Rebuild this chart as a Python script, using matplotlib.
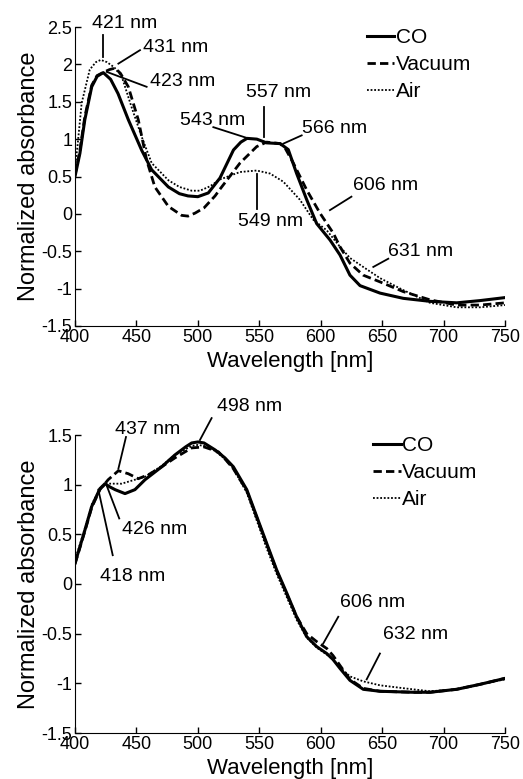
import matplotlib
matplotlib.use("Agg")
import matplotlib.pyplot as plt

plt.rcParams['font.family'] = ['Liberation Sans', 'DejaVu Sans']

# ---------------- Top panel data ----------------
top_co_x = [400, 404, 408, 413.6, 418, 423, 429, 435, 443.4, 454.3, 462.4, 476, 485, 492, 500, 508.5, 518, 529, 535, 540, 548, 556, 567, 573.6, 580.4, 588.6, 596.7, 607.6, 615.7, 623.8, 632, 648.3, 667.2, 689, 710.7, 729.7, 750]
top_co_y = [0.50, 0.81, 1.26, 1.70, 1.84, 1.89, 1.80, 1.61, 1.26, 0.85, 0.59, 0.36, 0.27, 0.24, 0.23, 0.28, 0.48, 0.855, 0.96, 1.01, 1.00, 0.95, 0.94, 0.86, 0.54, 0.19, -0.13, -0.35, -0.55, -0.82, -0.96, -1.06, -1.13, -1.17, -1.19, -1.16, -1.12]

top_vac_x = [400, 404, 408, 413.6, 418, 424, 428, 432.6, 437, 443.4, 451.5, 458.3, 465, 476, 486.8, 492, 497.7, 505, 514, 518, 534.3, 547.9, 556, 566.9, 571, 577.7, 588.6, 599.4, 610.3, 615.7, 623.8, 634.6, 648.3, 667.2, 689, 710.7, 729.7, 750]
top_vac_y = [0.52, 0.85, 1.30, 1.72, 1.85, 1.90, 1.93, 1.95, 1.88, 1.70, 1.26, 0.72, 0.36, 0.10, -0.02, -0.03, 0.01, 0.08, 0.24, 0.33, 0.68, 0.90, 0.96, 0.94, 0.88, 0.68, 0.32, 0.01, -0.26, -0.44, -0.66, -0.82, -0.91, -1.04, -1.15, -1.22, -1.22, -1.19]

top_air_x = [400, 402, 405.4, 412, 417, 421, 426, 432, 438, 446, 454.3, 462.4, 476, 485, 495, 501.7, 510, 518, 534.3, 547.9, 558.7, 569.6, 583, 594, 604.9, 615.7, 623.8, 634.6, 648.3, 667.2, 689, 710.7, 729.7, 750]
top_air_y = [0.62, 0.90, 1.48, 1.93, 2.03, 2.06, 2.03, 1.96, 1.84, 1.43, 1.03, 0.68, 0.45, 0.36, 0.31, 0.31, 0.37, 0.46, 0.56, 0.58, 0.54, 0.43, 0.19, -0.08, -0.22, -0.44, -0.59, -0.71, -0.86, -1.02, -1.19, -1.25, -1.25, -1.22]

# ---------------- Bottom panel data ----------------
bot_co_x = [400, 408, 413.6, 420.3, 424.4, 428, 432.6, 440.7, 448.8, 457, 470.6, 481.4, 490, 495, 500, 505, 514, 522, 528.9, 539.8, 547.9, 556, 564.2, 572.3, 580.4, 588.6, 596.7, 604.9, 610, 615.7, 623.8, 634.6, 648.3, 675.4, 689, 710.7, 729.7, 750]
bot_co_y = [0.21, 0.54, 0.78, 0.96, 1.01, 0.98, 0.95, 0.91, 0.95, 1.05, 1.18, 1.30, 1.38, 1.42, 1.43, 1.42, 1.35, 1.27, 1.18, 0.95, 0.68, 0.41, 0.14, -0.09, -0.33, -0.53, -0.63, -0.70, -0.76, -0.85, -0.97, -1.06, -1.08, -1.09, -1.09, -1.06, -1.01, -0.95]

bot_vac_x = [400, 408, 413.6, 420.3, 427, 435.3, 443.4, 451.5, 459.7, 470.6, 481.4, 495, 505, 516.8, 522, 528.9, 539.8, 547.9, 556, 564.2, 572.3, 580.4, 588.6, 596.7, 605, 610, 615.7, 623.8, 634.6, 648.3, 675.4, 689, 710.7, 729.7, 750]
bot_vac_y = [0.20, 0.53, 0.77, 0.95, 1.05, 1.14, 1.11, 1.06, 1.10, 1.18, 1.27, 1.37, 1.38, 1.33, 1.26, 1.16, 0.94, 0.67, 0.40, 0.13, -0.10, -0.33, -0.50, -0.58, -0.65, -0.72, -0.82, -0.96, -1.05, -1.08, -1.09, -1.09, -1.06, -1.01, -0.95]

bot_air_x = [400, 408, 413.6, 420.3, 427, 438, 448.8, 457, 470.6, 481.4, 495, 500, 505, 514, 522, 528.9, 539.8, 547.9, 556, 564.2, 572.3, 580.4, 588.6, 596.7, 604.9, 610, 615.7, 623.8, 634.6, 648.3, 668, 689, 710.7, 729.7, 750]
bot_air_y = [0.24, 0.56, 0.80, 0.96, 1.01, 1.01, 1.05, 1.08, 1.19, 1.30, 1.39, 1.40, 1.39, 1.34, 1.26, 1.16, 0.92, 0.64, 0.36, 0.10, -0.13, -0.36, -0.54, -0.64, -0.71, -0.76, -0.84, -0.93, -0.98, -1.02, -1.05, -1.08, -1.06, -1.01, -0.96]

# ---------------- Annotations: label, leader line (x0,y0)-(x1,y1), text (x, y, ha) ----------------
top_ann = [
    ("421 nm", (423, 2.10), (423, 2.39), (440.7, 2.55, 'center')),
    ("431 nm", (435.3, 2.01), (452.9, 2.19), (455.6, 2.23, 'left')),
    ("423 nm", (425.8, 1.90), (458.3, 1.70), (461, 1.765, 'left')),
    ("557 nm", (553.8, 1.03), (553.8, 1.43), (565.5, 1.63, 'center')),
    ("543 nm", (541, 1.01), (512.6, 1.16), (538.4, 1.25, 'right')),
    ("566 nm", (569.6, 0.94), (584.5, 1.05), (584.5, 1.14, 'left')),
    ("606 nm", (607.5, 0.05), (625, 0.23), (626.5, 0.384, 'left')),
    ("549 nm", (548, 0.54), (548, 0.07), (559.3, -0.106, 'center')),
    ("631 nm", (642.8, -0.71), (655, -0.60), (655, -0.507, 'left')),
]
bot_ann = [
    ("498 nm", (501.7, 1.45), (511.2, 1.67), (515.3, 1.785, 'left')),
    ("437 nm", (435.3, 1.16), (441.5, 1.48), (432.6, 1.557, 'left')),
    ("426 nm", (425.2, 1.01), (436, 0.66), (438, 0.545, 'left')),
    ("418 nm", (419, 0.95), (430.7, 0.29), (420.3, 0.075, 'left')),
    ("606 nm", (602, -0.60), (614.3, -0.33), (615.7, -0.186, 'left')),
    ("632 nm", (637.4, -0.96), (648.2, -0.70), (651, -0.51, 'left')),
]

series_labels = ["CO", "Vacuum", "Air"]
xticks = [400, 450, 500, 550, 600, 650, 700, 750]
top_yticks = [-1.5, -1, -0.5, 0, 0.5, 1, 1.5, 2, 2.5]
bot_yticks = [-1.5, -1, -0.5, 0, 0.5, 1, 1.5]

W, H = 523, 779
fig = plt.figure(figsize=(W / 100, H / 100), dpi=100)
ax1 = fig.add_axes([75 / W, 1 - 326 / H, 430 / W, 299 / H])
ax2 = fig.add_axes([75 / W, 1 - 733 / H, 430 / W, 298 / H])

styles = [dict(color='black', lw=2.2, ls='-'),
          dict(color='black', lw=2.0, ls=(0, (3.0, 1.5))),
          dict(color='black', lw=1.3, ls=(0, (1, 1)))]


def tick_fmt(v):
    if v == int(v):
        return str(int(v))
    return str(v)


def setup(ax, data, ann, yticks, ylim, leg_anchor):
    for (xs, ys), st, lab in zip(data, styles, series_labels):
        ax.plot(xs, ys, label=lab, **st)
    for lab, p0, p1, (tx, ty, ha) in ann:
        ax.plot([p0[0], p1[0]], [p0[1], p1[1]], color='black', lw=1.3,
                clip_on=False)
        ax.text(tx, ty, lab, ha=ha, va='center', fontsize=14, clip_on=False)
    ax.set_xlim(400, 750)
    ax.set_ylim(*ylim)
    ax.set_xticks(xticks)
    ax.set_xticklabels([str(t) for t in xticks])
    ax.set_yticks(yticks)
    ax.set_yticklabels([tick_fmt(t) for t in yticks])
    ax.spines['top'].set_visible(False)
    ax.spines['right'].set_visible(False)
    ax.tick_params(direction='in', length=4, width=1, labelsize=13, pad=2)
    ax.set_xlabel("Wavelength [nm]", fontsize=16, labelpad=4)
    ax.set_ylabel("Normalized absorbance", fontsize=17, labelpad=1)
    leg = ax.legend(loc='upper left', bbox_to_anchor=leg_anchor, frameon=False,
                    fontsize=15, handlelength=1.3, handletextpad=0.08,
                    labelspacing=0.38, borderaxespad=0, borderpad=0)
    return leg


setup(ax1, [(top_co_x, top_co_y), (top_vac_x, top_vac_y), (top_air_x, top_air_y)],
      top_ann, top_yticks, (-1.5, 2.5), (0.679, 0.995))
setup(ax2, [(bot_co_x, bot_co_y), (bot_vac_x, bot_vac_y), (bot_air_x, bot_air_y)],
      bot_ann, bot_yticks, (-1.5, 1.5), (0.694, 0.995))

fig.savefig("out.png", dpi=100)
